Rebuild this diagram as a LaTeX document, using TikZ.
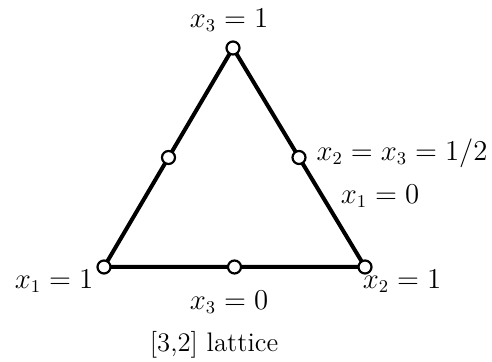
\documentclass[tikz,border=0pt]{standalone}
\usetikzlibrary{calc}
\begin{document}
\begin{tikzpicture}[x=0.5pt,y=-0.5pt,
  vtx/.style={circle,draw,fill=white,line width=1.1pt,minimum size=6.5pt,inner sep=0pt},
  edge/.style={line width=2pt},
  lbl/.style={font=\fontsize{13.4}{16}\selectfont,inner sep=0pt}]
\useasboundingbox (0,0) rectangle (492,362);
\coordinate (T) at (233,48);
\coordinate (L) at (104,267);
\coordinate (R) at (365,267);
\draw[edge] (T) -- (L) -- (R) -- cycle;
\node[vtx] (t) at (T) {};
\node[vtx] (l) at (L) {};
\node[vtx] (r) at (R) {};
\node[vtx] (ml) at ($(T)!0.5!(L)$) {};
\node[vtx] (mr) at ($(T)!0.5!(R)$) {};
\node[vtx] (mb) at ($(L)!0.5!(R)$) {};
\node[lbl] (a) at (229,20) {$x_3=1$};
\node[lbl] (b) at (402,153) {$x_2=x_3=1/2$};
\node[lbl] (c) at (380,196) {$x_1=0$};
\node[lbl] (d) at (54,281) {$x_1=1$};
\node[lbl] (e) at (402,281) {$x_2=1$};
\node[lbl] (f) at (229,302) {$x_3=0$};
\node[lbl] (g) at (214,345) {[3,2] lattice};
\end{tikzpicture}
\end{document}
